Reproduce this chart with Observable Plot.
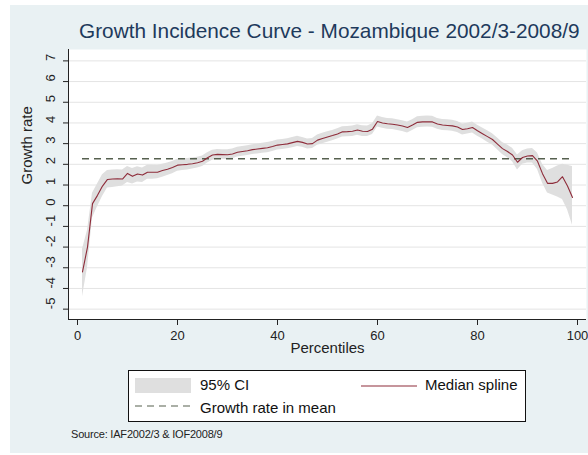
<!DOCTYPE html>
<html>
<head>
<meta charset="utf-8">
<script src="https://cdn.jsdelivr.net/npm/d3@7"></script>
<script src="https://cdn.jsdelivr.net/npm/@observablehq/plot@0.6"></script>
<style>
  html, body { margin: 0; padding: 0; background: #fff; }
  #fig { position: relative; width: 588px; height: 455px; overflow: hidden;
         font-family: "Liberation Sans", Arial, sans-serif; color: #111; }
  #bg { position: absolute; left: 10px; top: 5px; width: 578px; height: 448px; background: #e9f1f3; }
  #chart { position: absolute; left: 0; top: 0; }
  #title { position: absolute; left: 79px; top: 19px; font-size: 20.8px; color: #1e3a5c; white-space: nowrap; }
  #legend { position: absolute; left: 128px; top: 370px; width: 396px; height: 50px;
            border: 1px solid #111; background: #fff; font-size: 15px; }
  #legend .item { position: absolute; white-space: nowrap; }
  #legend svg { position: absolute; }
  #source { position: absolute; left: 71px; top: 428px; font-size: 11px; color: #222; white-space: nowrap; letter-spacing: -0.2px; }
</style>
</head>
<body>
<div id="fig">
  <div id="bg"></div>
  <div id="chart"></div>
  <div id="title"></div>
  <div id="legend"></div>
  <div id="source"></div>
</div>
<script>
// Growth incidence curve: median spline with its 95% confidence band, by percentile
const percentiles = [
  1, 2, 3, 4, 5, 6, 7, 8, 9, 10, 11, 12, 13, 14, 15, 16, 17, 18, 19, 20,
  21, 22, 23, 24, 25, 26, 27, 28, 29, 30, 31, 32, 33, 34, 35, 36, 37, 38, 39, 40,
  41, 42, 43, 44, 45, 46, 47, 48, 49, 50, 51, 52, 53, 54, 55, 56, 57, 58, 59, 60,
  61, 62, 63, 64, 65, 66, 67, 68, 69, 70, 71, 72, 73, 74, 75, 76, 77, 78, 79, 80,
  81, 82, 83, 84, 85, 86, 87, 88, 89, 90, 91, 92, 93, 94, 95, 96, 97, 98, 99
];
const medianSpline = [
  -3.2, -2.0, 0.1, 0.5, 0.95, 1.27, 1.29, 1.30, 1.29, 1.56, 1.42, 1.53, 1.48, 1.62, 1.62, 1.62, 1.70, 1.76, 1.85, 1.96,
  1.98, 2.0, 2.03, 2.08, 2.15, 2.32, 2.45, 2.48, 2.47, 2.46, 2.5, 2.58, 2.62, 2.66, 2.71, 2.74, 2.77, 2.8, 2.86, 2.93,
  2.96, 2.99, 3.05, 3.11, 3.06, 2.98, 3.0, 3.17, 3.25, 3.32, 3.39, 3.47, 3.57, 3.58, 3.6, 3.66, 3.6, 3.59, 3.7, 4.07,
  4.0, 3.96, 3.94, 3.9, 3.85, 3.78, 3.9, 4.03, 4.05, 4.06, 4.05, 3.95, 3.9, 3.88, 3.86, 3.8, 3.68, 3.72, 3.78, 3.62,
  3.48, 3.34, 3.2, 2.98, 2.76, 2.62, 2.45, 2.1, 2.33, 2.4, 2.42, 2.15, 1.55, 1.08, 1.08, 1.15, 1.4, 0.95, 0.4
];
const ciLower = [
  -4.4, -3.0, -0.6, -0.05, 0.45, 0.85, 0.88, 0.92, 0.95, 1.12, 1.05, 1.15, 1.12, 1.28, 1.28, 1.3, 1.38, 1.46, 1.55, 1.66,
  1.7, 1.73, 1.77, 1.82, 1.9, 2.07, 2.2, 2.24, 2.24, 2.23, 2.27, 2.35, 2.39, 2.43, 2.47, 2.5, 2.53, 2.56, 2.62, 2.69,
  2.72, 2.75, 2.8, 2.86, 2.82, 2.74, 2.76, 2.92, 3.0, 3.07, 3.14, 3.22, 3.32, 3.33, 3.35, 3.41, 3.35, 3.34, 3.44, 3.8,
  3.74, 3.7, 3.68, 3.64, 3.59, 3.52, 3.64, 3.77, 3.79, 3.8, 3.79, 3.69, 3.64, 3.62, 3.6, 3.54, 3.42, 3.46, 3.52, 3.36,
  3.22, 3.07, 2.93, 2.7, 2.47, 2.32, 2.12, 1.72, 2.0, 2.07, 2.07, 1.75, 1.1, 0.62, 0.52, 0.42, 0.3, -0.2, -0.95
];
const ciUpper = [
  -2.1, -1.2, 0.6, 1.05, 1.5, 1.7, 1.72, 1.74, 1.72, 1.9, 1.8, 1.88, 1.82, 1.96, 1.95, 1.94, 2.0, 2.06, 2.14, 2.24,
  2.26, 2.28, 2.3, 2.34, 2.4, 2.56, 2.68, 2.72, 2.7, 2.7, 2.74, 2.82, 2.86, 2.9, 2.95, 2.98, 3.02, 3.05, 3.1, 3.17,
  3.2, 3.24, 3.3, 3.36, 3.3, 3.22, 3.25, 3.42, 3.5, 3.57, 3.64, 3.72, 3.82, 3.83, 3.85, 3.91, 3.86, 3.85, 3.96, 4.33,
  4.26, 4.22, 4.2, 4.16, 4.11, 4.04, 4.16, 4.3, 4.32, 4.33, 4.32, 4.22, 4.17, 4.15, 4.13, 4.07, 3.95, 3.99, 4.05, 3.89,
  3.75, 3.62, 3.48, 3.27, 3.06, 2.93, 2.78, 2.45, 2.66, 2.74, 2.77, 2.55, 2.0, 1.7, 1.8, 1.92, 2.0, 1.95, 1.9
];
// growth rate in mean consumption, drawn across the percentile range
const meanGrowth = 2.27;
const xTicks = [0, 20, 40, 60, 80, 100];
const yTicks = [-5, -4, -3, -2, -1, 0, 1, 2, 3, 4, 5, 6, 7];

const titleText = "Growth Incidence Curve - Mozambique 2002/3-2008/9";
const sourceText = "Source: IAF2002/3 & IOF2008/9";
const legendLabels = { ci: "95% CI", median: "Median spline", mean: "Growth rate in mean" };

const rows = percentiles.map((p, i) => ({ p, med: medianSpline[i], lo: ciLower[i], hi: ciUpper[i] }));
const [pMin, pMax] = d3.extent(percentiles);

const xDomain = [-1.8, 101.8];
const yDomain = [-5.5, 7.55];

const colors = { band: "#dfdfdf", median: "#8e2c3a", mean: "#56604f", grid: "#e4e4e4", axis: "#222" };

const chart = Plot.plot({
  width: 588,
  height: 455,
  marginLeft: 68,
  marginRight: 2,
  marginTop: 49,
  marginBottom: 136,
  style: { background: "transparent", fontFamily: "'Liberation Sans', Arial, sans-serif", fontSize: "13px", color: "#222", overflow: "visible" },
  x: { domain: xDomain },
  y: { domain: yDomain },
  marks: [
    Plot.frame({ fill: "white", stroke: null }),
    Plot.gridY(yTicks, { stroke: colors.grid, strokeOpacity: 1 }),
    Plot.areaY(rows, { x: "p", y1: "lo", y2: "hi", fill: colors.band }),
    Plot.ruleY([meanGrowth], { x1: pMin, x2: pMax, stroke: colors.mean, strokeWidth: 1.3, strokeDasharray: "7,5" }),
    Plot.line(rows, { x: "p", y: "med", stroke: colors.median, strokeWidth: 1.1 }),
    Plot.ruleX([xDomain[0]], { stroke: colors.axis }),
    Plot.ruleY([yDomain[0]], { stroke: colors.axis }),
    Plot.axisX(xTicks, { tickSize: 6, tickPadding: 5, label: null, fontSize: 13, stroke: colors.axis }),
    Plot.axisY(yTicks, { tickSize: 5, tickFormat: () => "", label: null, stroke: colors.axis }),
    Plot.text(yTicks, { y: d => d, frameAnchor: "left", dx: -18, rotate: -90, text: d => String(d), fontSize: 13, fill: "#222" }),
    Plot.text(["Percentiles"], { frameAnchor: "bottom", dy: 33, fontSize: 15, fill: "#222" }),
    Plot.text(["Growth rate"], { frameAnchor: "left", dx: -41, rotate: -90, fontSize: 15, fill: "#222" })
  ]
});
document.getElementById("chart").appendChild(chart);

document.getElementById("title").textContent = titleText;
document.getElementById("source").textContent = sourceText;

// legend: band swatch, dashed mean line, solid median line
const legend = document.getElementById("legend");
legend.innerHTML = `
  <div style="position:absolute;left:6px;top:7px;width:56px;height:15px;background:${colors.band}"></div>
  <div class="item" style="left:71px;top:5px">${legendLabels.ci}</div>
  <svg style="left:6px;top:32px" width="58" height="6"><line x1="0" y1="3" x2="58" y2="3" stroke="${colors.mean}" stroke-width="1.2" stroke-dasharray="7,5"/></svg>
  <div class="item" style="left:71px;top:28px">${legendLabels.mean}</div>
  <svg style="left:232px;top:12px" width="56" height="6"><line x1="0" y1="3" x2="56" y2="3" stroke="${colors.median}" stroke-width="1.2"/></svg>
  <div class="item" style="left:296px;top:5px">${legendLabels.median}</div>
`;
</script>
</body>
</html>
